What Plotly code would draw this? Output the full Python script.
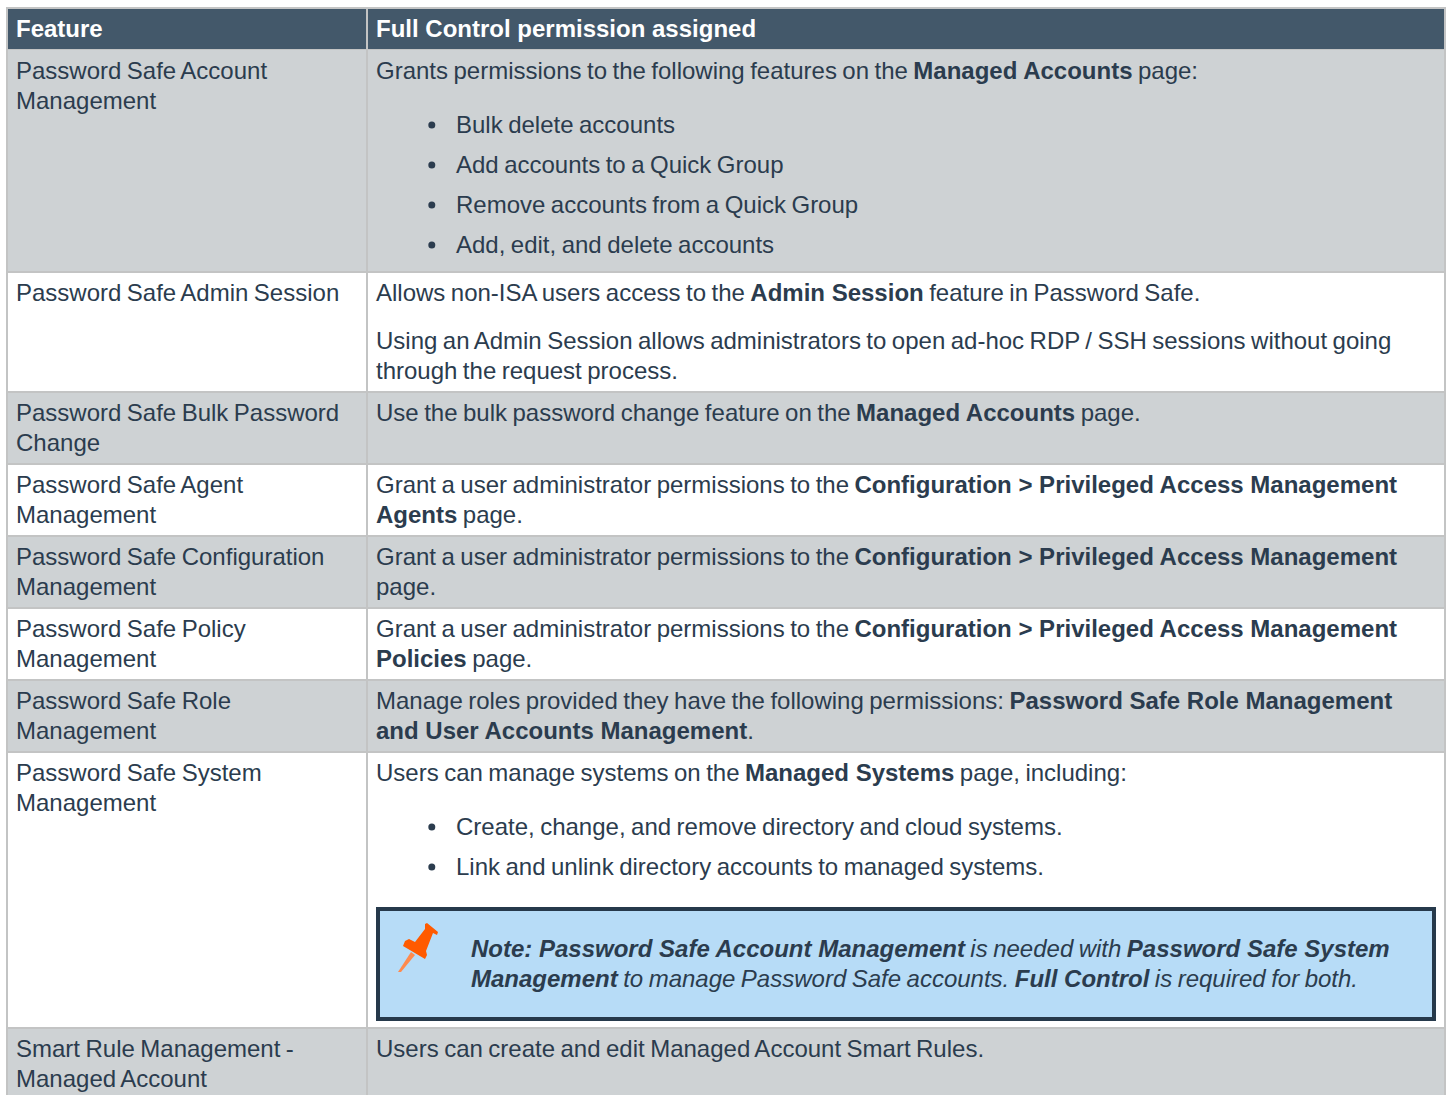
import plotly.graph_objects as go

# ---- content ----
header = ["Feature", "Full Control permission assigned"]

feature_lines = [
    ["Password Safe Account", "Management"],
    ["Password Safe Admin Session"],
    ["Password Safe Bulk Password", "Change"],
    ["Password Safe Agent", "Management"],
    ["Password Safe Configuration", "Management"],
    ["Password Safe Policy", "Management"],
    ["Password Safe Role", "Management"],
    ["Password Safe System", "Management"],
    ["Smart Rule Management -", "Managed Account"],
]

permission_lines = [
    ["Grants permissions to the following features on the <b>Managed Accounts</b> page:"],
    ["Allows non-ISA users access to the <b>Admin Session</b> feature in Password Safe.",
     "Using an Admin Session allows administrators to open ad-hoc RDP / SSH sessions without going",
     "through the request process."],
    ["Use the bulk password change feature on the <b>Managed Accounts</b> page."],
    ["Grant a user administrator permissions to the <b>Configuration &gt; Privileged Access Management</b>",
     "<b>Agents</b> page."],
    ["Grant a user administrator permissions to the <b>Configuration &gt; Privileged Access Management</b>",
     "page."],
    ["Grant a user administrator permissions to the <b>Configuration &gt; Privileged Access Management</b>",
     "<b>Policies</b> page."],
    ["Manage roles provided they have the following permissions: <b>Password Safe Role Management</b>",
     "<b>and User Accounts Management</b>."],
    ["Users can manage systems on the <b>Managed Systems</b> page, including:"],
    ["Users can create and edit Managed Account Smart Rules."],
]

bullet_lines = [
    ["Bulk delete accounts", "Add accounts to a Quick Group",
     "Remove accounts from a Quick Group", "Add, edit, and delete accounts"],
    [], [], [], [], [], [],
    ["Create, change, and remove directory and cloud systems.",
     "Link and unlink directory accounts to managed systems."],
    [],
]

note_lines = [
    "<b>Note: Password Safe Account Management</b> is needed with <b>Password Safe System</b>",
    "<b>Management</b> to manage Password Safe accounts. <b>Full Control</b> is required for both.",
]

# ---- page geometry (pixels) ----
W, H = 1447, 1095
OUTER_L, OUTER_R = 6, 1446
COL1_R, COL2_L = 366, 368
CELL_L, CELL_R = 8, 1444
HEADER_T = 7
RULE = 2
ROW_TOPS = [49, 271, 391, 463, 535, 607, 679, 751, 1027, 1120]
TEXT_X1, TEXT_X2, BULLET_TEXT_X, NOTE_TEXT_X = 15, 375, 455, 470
FIRST_LINE_OFFSET = 21
LINE_STEP = 30
PERMISSION_Y = [[70], [292, 340, 370], [412], [484, 514], [556, 586], [628, 658], [700, 730], [772], [1048]]
BULLET_Y = [[124, 164, 204, 244], [], [], [], [], [], [], [826, 866], []]
NOTE_Y = [948, 978]
NOTE_BOX = (378, 909, 1434, 1019)

TEXT = "#2b3c4e"
HEAD = "#43586a"
GREY = "#ced2d4"
LINE = "#c3c4c4"
FONT = "Liberation Sans"
SIZE = 24

shapes, ann = [], []


def rect(x0, y0, x1, y1, fill, line=None, width=0):
    shapes.append(dict(type="rect", x0=x0, y0=y0, x1=x1, y1=y1, fillcolor=fill,
                       line=dict(color=line or fill, width=width), layer="below"))


def text(x, y, s, color=TEXT, size=SIZE, italic=False):
    if italic:
        s = "<i>" + s + "</i>"
    ann.append(dict(x=x, y=y, text=s, xref="x", yref="y", xanchor="left", yanchor="middle",
                    showarrow=False, align="left", borderpad=0,
                    font=dict(family=FONT, size=size, color=color)))


# header
rect(OUTER_L, HEADER_T, OUTER_R, ROW_TOPS[0] + 1, LINE)
rect(CELL_L, HEADER_T + RULE, COL1_R, ROW_TOPS[0], HEAD)
rect(COL2_L, HEADER_T + RULE, CELL_R, ROW_TOPS[0], HEAD)
text(TEXT_X1, 28, "<b>" + header[0] + "</b>", "#ffffff")
text(TEXT_X2, 28, "<b>" + header[1] + "</b>", "#ffffff")

# rows
for i in range(len(feature_lines)):
    top, bot = ROW_TOPS[i], ROW_TOPS[i + 1]
    cell_top = top + (1 if i == 0 else RULE)
    fill = GREY if i % 2 == 0 else "#ffffff"
    rect(OUTER_L, top, OUTER_R, bot + RULE, LINE)
    rect(CELL_L, cell_top, COL1_R, bot, fill)
    rect(COL2_L, cell_top, CELL_R, bot, fill)
    for j, s in enumerate(feature_lines[i]):
        text(TEXT_X1, top + FIRST_LINE_OFFSET + j * LINE_STEP, s)
    for y, s in zip(PERMISSION_Y[i], permission_lines[i]):
        text(TEXT_X2, y, s)
    for y, s in zip(BULLET_Y[i], bullet_lines[i]):
        shapes.append(dict(type="circle", x0=428.3, x1=435.3, y0=y - 2.5, y1=y + 4.5,
                           fillcolor=TEXT, line=dict(width=0)))
        text(BULLET_TEXT_X, y, s)

# note box
rect(NOTE_BOX[0], NOTE_BOX[1], NOTE_BOX[2], NOTE_BOX[3], "#b7dcf7", "#26394b", 4)
for y, s in zip(NOTE_Y, note_lines):
    text(NOTE_TEXT_X, y, s, italic=True)

# pin icon
shapes.append(dict(type="path", layer="above", fillcolor="#ff8a4d", line=dict(width=0),
    path="M411 952 L415 955 L401 972 L398 972 Z"))
shapes.append(dict(type="path", layer="above", fillcolor="#ff5a00", line=dict(width=0),
    path="M425 924 L427 923 L438 932 L437 935 L433 933 L426 951 L427 955 L425 959 "
         "L403 946 L405 941 L409 939 L415 942 L425 929 Z"))

fig = go.Figure()
fig.update_layout(
    width=W, height=H, autosize=False,
    margin=dict(l=0, r=0, t=0, b=0, pad=0),
    paper_bgcolor="#ffffff", plot_bgcolor="#ffffff",
    showlegend=False, shapes=shapes, annotations=ann,
    xaxis=dict(range=[0, W], visible=False, fixedrange=True),
    yaxis=dict(range=[H, 0], visible=False, fixedrange=True),
)
fig.write_html(
    "out.html", config=dict(displayModeBar=False),
    post_script=(
        "document.body.style.margin='0';document.body.style.overflow='hidden';"
        "var s=document.createElement('style');"
        "s.textContent='.annotation text{word-spacing:-1.2px}"
        " .annotation tspan[style*=\"bold\"]{word-spacing:0}';"
        "document.head.appendChild(s);"
    ),
)
